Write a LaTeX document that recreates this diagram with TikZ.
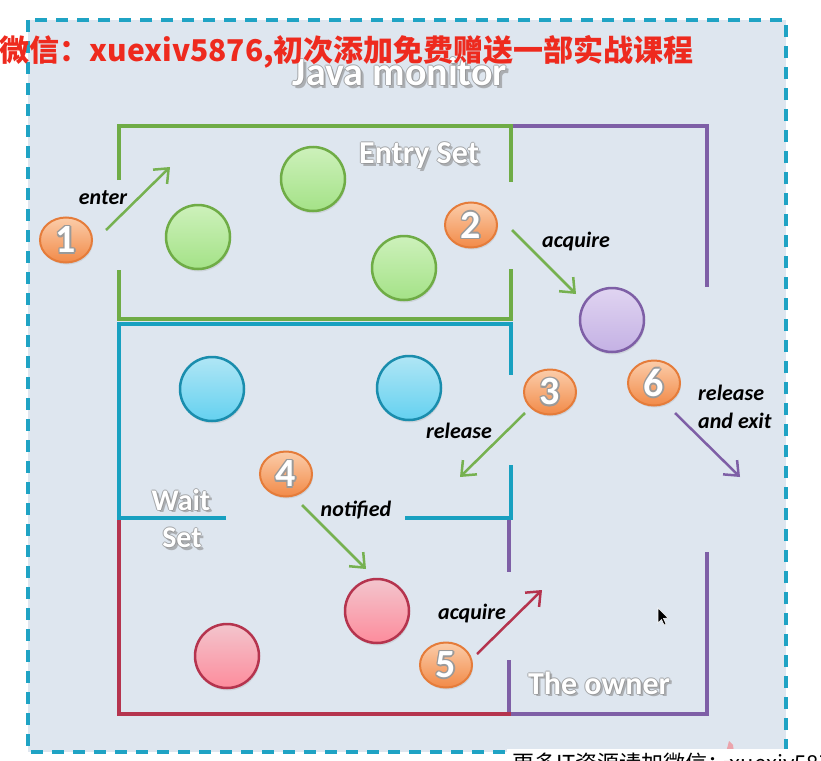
\documentclass[tikz,border=0pt]{standalone}
\usepackage{fontspec}
\setmainfont{Carlito}
\newfontfamily\cjk{Noto Sans CJK SC}
\usetikzlibrary{arrows.meta,shapes.geometric,shadows}
\definecolor{panel}{HTML}{DEE6EF}
\definecolor{dashc}{HTML}{1FA3C4}
\definecolor{gcol}{HTML}{6FAC46}
\definecolor{garr}{HTML}{76B150}
\definecolor{tcol}{HTML}{18A0C0}
\definecolor{pcol}{HTML}{7E5FA6}
\definecolor{rcol}{HTML}{B5344E}
\definecolor{redtxt}{HTML}{EE2A1E}
\definecolor{digitgray}{HTML}{9A9A9A}
\definecolor{shadowgray}{HTML}{8A8A8A}
\definecolor{pinkwm}{HTML}{EBA4AC}
\definecolor{gtop}{HTML}{CDF1BB}
\definecolor{gbot}{HTML}{A4E287}
\definecolor{btop}{HTML}{B0E6F5}
\definecolor{bbot}{HTML}{64D1F0}
\definecolor{bline}{HTML}{1A8DAD}
\definecolor{ptop}{HTML}{E0D4F1}
\definecolor{pbot}{HTML}{C4B1E4}
\definecolor{rtop}{HTML}{F3C5CD}
\definecolor{rbot}{HTML}{FD8C9C}
\definecolor{otop}{HTML}{FBCDAA}
\definecolor{obot}{HTML}{F28A48}
\definecolor{oline}{HTML}{E57C3A}
\tikzset{
  dashborder/.style={draw=dashc, line width=4pt, dash pattern=on 12pt off 9pt},
  boxline/.style={line width=4pt, line cap=butt},
  gline/.style={boxline, draw=gcol},
  tline/.style={boxline, draw=tcol},
  pline/.style={boxline, draw=pcol},
  rline/.style={boxline, draw=rcol},
  ball/.style={circle, minimum size=64pt, inner sep=0pt, line width=2.5pt,
     drop shadow={opacity=0.18, shadow xshift=1pt, shadow yshift=-2.5pt}},
  gball/.style={ball, draw=gcol, top color=gtop, bottom color=gbot},
  bball/.style={ball, draw=bline, top color=btop, bottom color=bbot},
  pball/.style={ball, draw=pcol, top color=ptop, bottom color=pbot},
  rball/.style={ball, draw=rcol, top color=rtop, bottom color=rbot},
  badge/.style={ellipse, minimum width=52pt, minimum height=45pt, inner sep=0pt,
     line width=2pt, draw=oline, top color=otop, bottom color=obot,
     drop shadow={opacity=0.18, shadow xshift=1pt, shadow yshift=-2pt}},
  digitfont/.style={font=\bfseries\fontsize{40}{44}\selectfont, inner sep=0pt},
  lab/.style={font=\bfseries\itshape\fontsize{22}{28}\selectfont, text=black, inner sep=0pt},
  arr/.style={line width=2.5pt, -{Straight Barb[length=12pt, width=20pt]}},
  garrow/.style={arr, draw=garr},
  parrow/.style={arr, draw=pcol},
  rarrow/.style={arr, draw=rcol},
}
\newcommand{\outdigit}[2]{%
  \foreach \dx/\dy [count=\k] in {-1.6/0,1.6/0,0/-1.6,0/1.6,-1.1/-1.1,1.1/-1.1,-1.1/1.1,1.1/1.1}{
    \node[digitfont, text=digitgray] (#1s\k) at ([shift={(\dx,\dy)}]#1.center) {#2};}
  \node[digitfont, text=white] (#1d) at (#1.center) {#2};}
\newcommand{\wlab}[4]{%
  \foreach \dx/\dy [count=\k] in {2.5/2.5,-1/0,1/0,0/-1,0/1}{
    \node[font=#3, text=shadowgray, opacity=0.6, inner sep=0pt] (#1s\k) at ([shift={(\dx,\dy)}]#2) {#4};}
  \node[font=#3, text=white, inner sep=0pt] (#1) at (#2) {#4};}
\begin{document}
\begin{tikzpicture}[x=1pt,y=-1pt]
\useasboundingbox (0,0) rectangle (821,760);
\fill[white] (0,0) rectangle (821,760);
\fill[panel] (28,20) rectangle (786,752);
\draw[dashborder] (28,20) rectangle (786,752);

% boxes
\draw[pline] (511,126) -- (707,126) -- (707,287);
\draw[pline] (707,552) -- (707,714) -- (509,714) -- (509,660);
\draw[pline] (509,520) -- (509,572);
\draw[rline] (119,518) -- (119,714) -- (511,714);
\draw[gline] (119,180) -- (119,126) -- (511,126) -- (511,182);
\draw[gline] (119,270) -- (119,319) -- (511,319) -- (511,269);
\draw[tline] (226,518) -- (119,518) -- (119,324) -- (511,324) -- (511,375);
\draw[tline] (511,465) -- (511,518) -- (405,518);

% titles
\wlab{jm}{400,72}{\bfseries\fontsize{40}{44}\selectfont}{Java monitor}
\node[font=\cjk\bfseries\fontsize{30}{32}\selectfont, text=redtxt, anchor=base east, inner sep=0pt] (banner) at (694,61) {加微信：xuexiv5876,初次添加免费赠送一部实战课程};
\wlab{es}{419,156}{\bfseries\fontsize{32}{36}\selectfont}{Entry Set}
\wlab{ws1}{181,500}{\bfseries\fontsize{30}{34}\selectfont}{Wait}
\wlab{ws2}{182,538}{\bfseries\fontsize{30}{34}\selectfont}{Set}
\wlab{ow}{599,683}{\bfseries\fontsize{32}{36}\selectfont}{The owner}

% balls
\node[gball] (g1) at (198,237) {};
\node[gball] (g2) at (313,179) {};
\node[gball] (g3) at (404,268) {};
\node[pball] (p1) at (612,320) {};
\node[bball] (c1) at (212,389) {};
\node[bball] (c2) at (409,388) {};
\node[rball] (r1) at (377,611) {};
\node[rball] (r2) at (227,656) {};

% badges
\node[badge] (n1) at (66,240) {};
\node[badge] (n2) at (471,225) {};
\node[badge] (n3) at (550,392) {};
\node[badge] (n4) at (286,474) {};
\node[badge] (n5) at (446,665) {};
\node[badge] (n6) at (654,383) {};
\outdigit{n1}{1}
\outdigit{n2}{2}
\outdigit{n3}{3}
\outdigit{n4}{4}
\outdigit{n5}{5}
\outdigit{n6}{6}

% arrows
\coordinate (a1s) at (106,230); \coordinate (a1e) at (170,167);
\coordinate (a2s) at (512,230); \coordinate (a2e) at (576,294);
\coordinate (a3s) at (525,413); \coordinate (a3e) at (460,477);
\coordinate (a4s) at (302,505); \coordinate (a4e) at (366,569);
\coordinate (a5s) at (477,654); \coordinate (a5e) at (542,590);
\coordinate (a6s) at (675,413); \coordinate (a6e) at (740,477);
\draw[garrow] (a1s) -- (a1e);
\draw[garrow] (a2s) -- (a2e);
\draw[garrow] (a3s) -- (a3e);
\draw[garrow] (a4s) -- (a4e);
\draw[rarrow] (a5s) -- (a5e);
\draw[parrow] (a6s) -- (a6e);

% labels
\node[lab] (lenter) at (103,198) {enter};
\node[lab] (lacq1) at (576,242) {acquire};
\node[lab] (lrel) at (459,431) {release};
\node[lab, align=left, anchor=west] (lrelex) at (698,407) {release\\and exit};
\node[lab] (lnot) at (356,510) {notified};
\node[lab] (lacq2) at (472,614) {acquire};

% cursor
\filldraw[fill=black, draw=white, line width=0.6pt] (658,608) -- (658,623) -- (661.5,619.5) -- (664,625) -- (666,624) -- (663.5,618.5) -- (668,618) -- cycle;

% bottom-right fragments
\fill[pinkwm] (724,760) -- (729,741) -- (733,745) -- (735,760) -- cycle;
\fill[white] (507,749) rectangle (821,760);
\node[font=\cjk\fontsize{22}{24}\selectfont, text=black, anchor=north west, inner sep=0pt] (wm) at (512,753) {更多IT资源请加微信：xuexiv5876};
\end{tikzpicture}
\end{document}
